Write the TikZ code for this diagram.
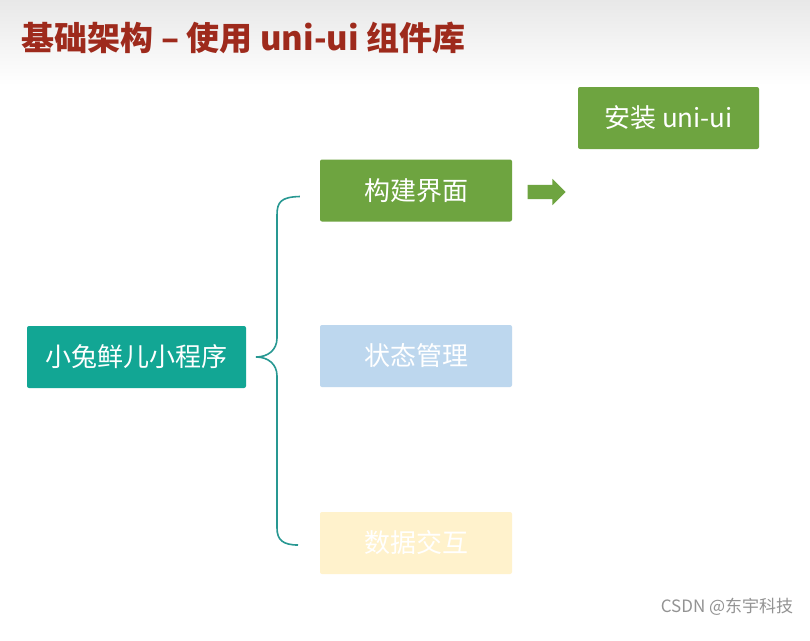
\documentclass[tikz,border=0pt]{standalone}
\usepackage{fontspec}
\setmainfont{Noto Sans CJK SC}
\usetikzlibrary{shapes.arrows}
\definecolor{titlered}{RGB}{158,42,28}
\definecolor{rootteal}{RGB}{18,166,148}
\definecolor{bracteal}{RGB}{40,152,146}
\definecolor{leafgreen}{RGB}{110,164,64}
\definecolor{paleblue}{RGB}{189,215,238}
\definecolor{paleyellow}{RGB}{255,242,204}
\tikzset{
  box/.style={rounded corners=2pt, inner sep=0pt, text=white,
    font=\fontsize{26}{30}\selectfont},
  leaf/.style={box, minimum width=192pt, minimum height=62pt},
}
\begin{document}
\begin{tikzpicture}[x=1pt,y=-1pt]
		\useasboundingbox (0,0) rectangle (810,640);
		% fond
		\fill[white] (0,0) rectangle (810,640);
		\shade[top color=gray!18, bottom color=white] (0,0) rectangle (810,85);
		% titre
		\node[anchor=west, text=titlered, font=\fontsize{33}{38}\selectfont\bfseries] (titre) at (18,38) {基础架构 – 使用 uni-ui 组件库};
		
		\node[box, fill=rootteal, minimum width=219pt, minimum height=62pt] (racine) at (136.5,357) {小兔鲜儿小程序};
		\node[leaf, fill=leafgreen] (ui) at (416,190.5) {构建界面};
		\node[leaf, fill=paleblue] (etat) at (416,356) {状态管理};
		\node[leaf, fill=paleyellow] (data) at (416,543) {数据交互};
		\node[box, fill=leafgreen, minimum width=181pt, minimum height=62pt] (install) at (668.5,118) {安装 uni-ui};
		
		% accolade
		\draw[bracteal, line width=1.6pt] (ui.west) ++(-20,6) coordinate (bh)
			.. controls (281,197) and (277,202) .. (277,215) -- (277,338)
			.. controls (277,350) and (268,357) .. (256,357) coordinate (pointe)
			.. controls (268,357) and (277,364) .. (277,376) -- (277,528)
			.. controls (277,540) and (283,545) .. (298,545) coordinate (bb);
		% fleche
		\node[single arrow, fill=leafgreen, draw=none, inner xsep=0pt, inner ysep=7pt, single arrow head extend=6pt, minimum height=38pt] (fleche) at (543,192) {};
		
		\node[text=gray!85, font=\fontsize{17}{20}\selectfont] (csdn) at (727,607) {CSDN @东宇科技};
	\end{tikzpicture}
\end{document}
